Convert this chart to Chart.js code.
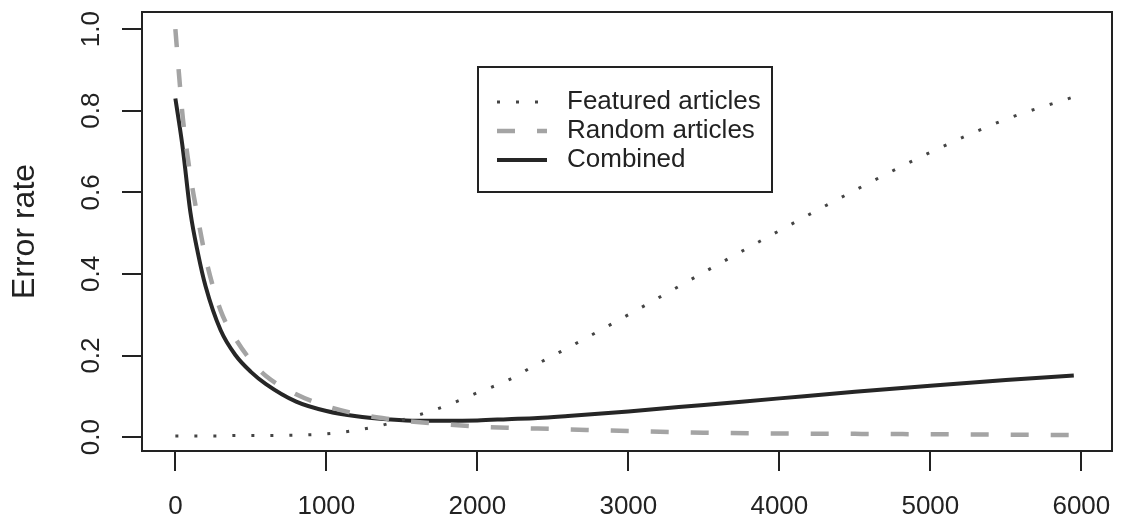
<!DOCTYPE html>
<html>
<head>
<meta charset="utf-8">
<script src="https://cdn.jsdelivr.net/npm/chart.js@4/dist/chart.umd.min.js"></script>
<style>
  body { margin: 0; background: #fff; }
  #errChart { display: block; }
</style>
</head>
<body>
<canvas id="errChart" width="1126" height="519"></canvas>
<script>
// values
const sizes = [0, 25, 50, 100, 150, 200, 300, 400, 500, 600, 800, 1000, 1200, 1400, 1600, 1800,
  2000, 2200, 2400, 2600, 3000, 3500, 4000, 4500, 5000, 5500, 5950];
const featured = [0.003, 0.003, 0.003, 0.003, 0.003, 0.003, 0.003, 0.004, 0.004, 0.004, 0.005, 0.008,
  0.017, 0.032, 0.053, 0.078, 0.109, 0.139, 0.180, 0.219, 0.300, 0.404, 0.506, 0.605, 0.698, 0.779, 0.834];
const random = [1.0, 0.885, 0.78, 0.64, 0.535, 0.44, 0.31, 0.24, 0.188, 0.15, 0.105, 0.076,
  0.057, 0.045, 0.037, 0.031, 0.026, 0.023, 0.021, 0.019, 0.015, 0.011, 0.009, 0.008, 0.007, 0.006, 0.005];
const combined = [0.83, 0.77, 0.705, 0.55, 0.45, 0.37, 0.262, 0.20, 0.16, 0.13, 0.087, 0.064,
  0.051, 0.044, 0.040, 0.040, 0.041, 0.044, 0.047, 0.052, 0.063, 0.079, 0.095, 0.111, 0.126, 0.140, 0.151];
const seriesNames = ['Featured articles', 'Random articles', 'Combined'];
const xTickValues = [0, 1000, 2000, 3000, 4000, 5000, 6000];
const xTickLabels = ['0', '1000', '2000', '3000', '4000', '5000', '6000'];
const yTickValues = [0, 0.2, 0.4, 0.6, 0.8, 1.0];
const yTickLabels = ['0.0', '0.2', '0.4', '0.6', '0.8', '1.0'];

const FONT = '"Liberation Sans", Arial, sans-serif';
const INK = '#222';

const toPoints = ys => ys.map((y, i) => ({x: sizes[i], y: y}));

// box, rotated y labels and legend, R style
const rStyle = {
  id: 'rStyle',
  afterDraw(chart) {
    const c = chart.ctx;
    const a = chart.chartArea;
    const yScale = chart.scales.y;
    c.save();
    c.strokeStyle = INK;
    c.lineWidth = 2;
    c.strokeRect(a.left, a.top, a.right - a.left, a.bottom - a.top);

    c.fillStyle = INK;
    c.font = '26px ' + FONT;
    c.textAlign = 'center';
    c.textBaseline = 'middle';
    yTickValues.forEach((v, i) => {
      c.save();
      c.translate(92, yScale.getPixelForValue(v));
      c.rotate(-Math.PI / 2);
      c.fillText(yTickLabels[i], 0, 0);
      c.restore();
    });

    // legend
    c.strokeRect(478, 67, 294, 125);
    chart.data.datasets.forEach((ds, i) => {
      const y = 102 + i * 29;
      c.save();
      c.strokeStyle = ds.borderColor;
      c.lineWidth = ds.borderWidth;
      c.setLineDash(ds.borderDash || []);
      c.beginPath();
      c.moveTo(497, y);
      c.lineTo(547, y);
      c.stroke();
      c.restore();
      c.fillStyle = INK;
      c.textAlign = 'left';
      c.fillText(ds.label, 567, y);
    });
    c.restore();
  }
};

new Chart(document.getElementById('errChart'), {
  type: 'line',
  data: {
    datasets: [
      {
        label: seriesNames[0],
        data: toPoints(featured),
        borderColor: '#444',
        borderWidth: 3,
        borderDash: [3, 16],
        pointRadius: 0,
        cubicInterpolationMode: 'monotone'
      },
      {
        label: seriesNames[1],
        data: toPoints(random),
        borderColor: '#a4a4a4',
        borderWidth: 4.5,
        borderDash: [18, 22],
        pointRadius: 0,
        cubicInterpolationMode: 'monotone'
      },
      {
        label: seriesNames[2],
        data: toPoints(combined),
        borderColor: '#262626',
        borderWidth: 4,
        pointRadius: 0,
        cubicInterpolationMode: 'monotone'
      }
    ]
  },
  options: {
    responsive: false,
    animation: false,
    layout: { padding: { top: 12, right: 14, left: 0, bottom: 0 } },
    plugins: { legend: { display: false }, tooltip: { enabled: false } },
    scales: {
      x: {
        type: 'linear',
        min: -221,
        max: 6203,
        afterBuildTicks: s => { s.ticks = xTickValues.map(v => ({value: v})); },
        afterFit: s => { s.height = 68; s.paddingLeft = 0; s.paddingRight = 0; },
        border: { display: false },
        grid: { drawOnChartArea: false, drawTicks: true, tickLength: 20, color: INK, lineWidth: 2 },
        ticks: {
          color: INK,
          font: { family: FONT, size: 26 },
          padding: 20,
          maxRotation: 0,
          callback: (v, i) => xTickLabels[i]
        }
      },
      y: {
        type: 'linear',
        min: -0.034,
        max: 1.042,
        afterBuildTicks: s => { s.ticks = yTickValues.map(v => ({value: v})); },
        afterFit: s => { s.width = 142; s.paddingTop = 0; s.paddingBottom = 0; },
        border: { display: false },
        grid: { drawOnChartArea: false, drawTicks: true, tickLength: 20, color: INK, lineWidth: 2 },
        ticks: { display: false },
        title: {
          display: true,
          text: 'Error rate',
          color: INK,
          font: { family: FONT, size: 32 },
          padding: { top: 6, bottom: 0 }
        }
      }
    }
  },
  plugins: [rStyle]
});
</script>
</body>
</html>
